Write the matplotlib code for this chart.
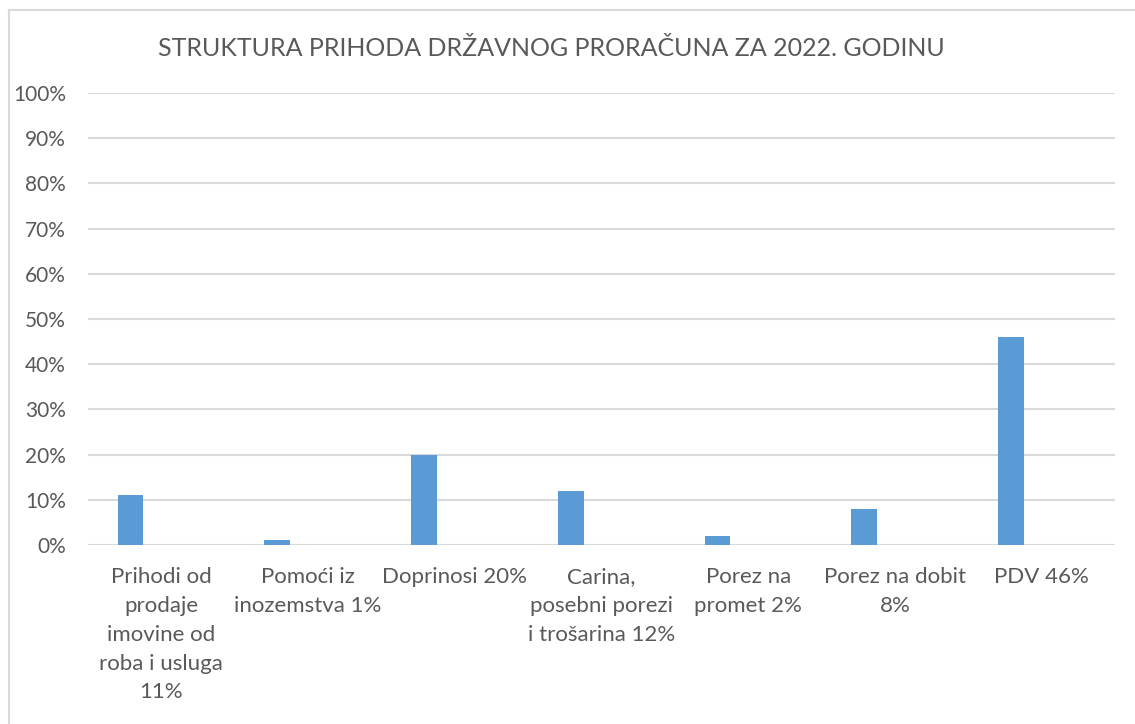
import matplotlib
matplotlib.use("Agg")
import matplotlib.pyplot as plt
from matplotlib.lines import Line2D
import numpy as np

categories = [
    "Prihodi od\nprodaje\nimovine od\nroba i usluga\n11%",
    "Pomoći iz\ninozemstva 1%",
    "Doprinosi 20%",
    "Carina,\nposebni porezi\ni trošarina 12%",
    "Porez na\npromet 2%",
    "Porez na dobit\n8%",
    "PDV 46%",
]
values = [0.11, 0.01, 0.20, 0.12, 0.02, 0.08, 0.46]
yticks = [0, 0.1, 0.2, 0.3, 0.4, 0.5, 0.6, 0.7, 0.8, 0.9, 1.0]
ytick_labels = ["0%", "10%", "20%", "30%", "40%", "50%", "60%", "70%", "80%", "90%", "100%"]
title = "STRUKTURA PRIHODA DRŽAVNOG PRORAČUNA ZA 2022. GODINU"

W, H = 1135, 724
fig = plt.figure(figsize=(W / 100, H / 100), dpi=100)
plt.rcParams['font.family'] = ['Lato', 'DejaVu Sans']
txt = "#595959"
grid = "#d9d9d9"

# outer chart border (left + top visible)
fig.add_artist(Line2D([8.5 / W, 8.5 / W], [0, 1 - 10 / H], transform=fig.transFigure, color=grid, lw=1.5))
fig.add_artist(Line2D([8.5 / W, 1], [1 - 10 / H, 1 - 10 / H], transform=fig.transFigure, color=grid, lw=1.5))

left, right = 88 / W, 1115 / W
top, bottom = 1 - 93 / H, 1 - 545 / H
ax = fig.add_axes([left, bottom, right - left, top - bottom])

x = np.arange(len(categories))
ax.bar(x - 0.21, values, width=0.175, color="#5b9bd5", zorder=3)

ax.set_xlim(-0.5, len(categories) - 0.5)
ax.set_ylim(0, 1.0)
ax.set_yticks(yticks)
ax.set_yticklabels(ytick_labels, fontsize=15, color=txt)
ax.set_xticks(x)
ax.set_xticklabels(categories, fontsize=16, color=txt, linespacing=1.55, va="top")
ax.tick_params(axis="both", length=0)
ax.tick_params(axis="y", pad=16)
ax.tick_params(axis="x", pad=16)
ax.yaxis.grid(True, color=grid, lw=1.5, zorder=0)
ax.set_axisbelow(True)
for s in ax.spines.values():
    s.set_visible(False)

fig.text(551 / W, 1 - 48 / H, title, ha="center", va="center", fontsize=18, color=txt)

fig.savefig("out.png", dpi=100)
